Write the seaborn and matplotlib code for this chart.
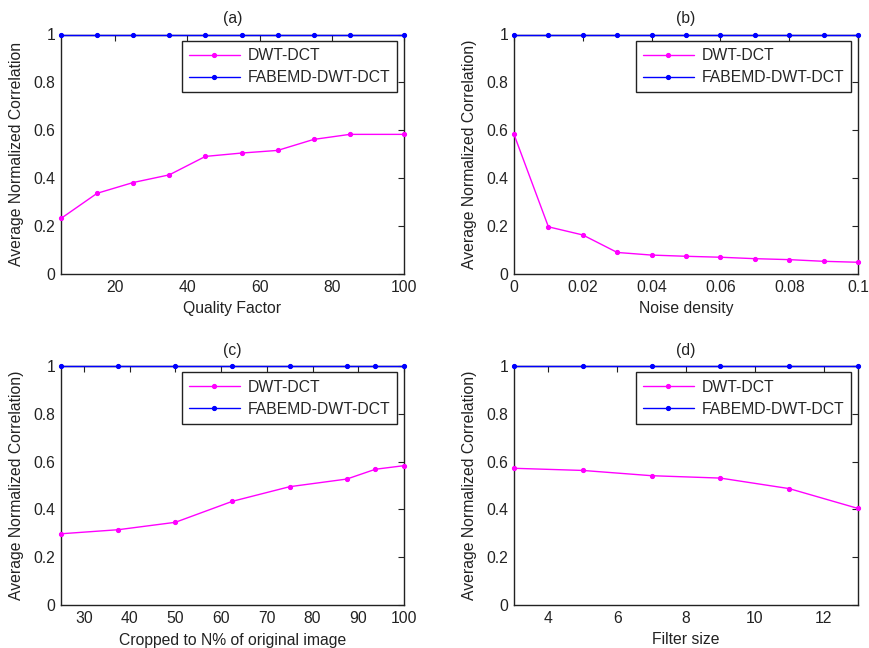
import matplotlib
matplotlib.use("Agg")
import matplotlib.pyplot as plt
import seaborn as sns
import pandas as pd
from matplotlib.ticker import FuncFormatter

sns.set_style("white")
plt.rcParams['font.family'] = ['Liberation Sans', 'DejaVu Sans']

# (a) JPEG compression
qf_x = [5, 15, 25, 35, 45, 55, 65, 75, 85, 100]
qf_dwt = [0.232, 0.337, 0.382, 0.414, 0.491, 0.505, 0.516, 0.562, 0.583, 0.583]
qf_fab = [1, 1, 1, 1, 1, 1, 1, 1, 1, 1]

# (b) Noise
nd_x = [0, 0.01, 0.02, 0.03, 0.04, 0.05, 0.06, 0.07, 0.08, 0.09, 0.1]
nd_dwt = [0.583, 0.197, 0.163, 0.090, 0.079, 0.074, 0.070, 0.064, 0.060, 0.053, 0.049]
nd_fab = [1, 1, 1, 1, 1, 1, 1, 1, 1, 1, 1]

# (c) Cropping
cr_x = [25, 37.5, 50, 62.5, 75, 87.5, 93.75, 100]
cr_dwt = [0.298, 0.315, 0.346, 0.434, 0.495, 0.527, 0.568, 0.583]
cr_fab = [1, 1, 1, 1, 1, 1, 1, 1]

# (d) Filter
fs_x = [3, 5, 7, 9, 11, 13]
fs_dwt = [0.572, 0.563, 0.541, 0.531, 0.487, 0.404]
fs_fab = [1, 1, 1, 1, 1, 1]

yticks = [0, 0.2, 0.4, 0.6, 0.8, 1]

fig = plt.figure(figsize=(8.69, 6.48), dpi=100)
W, H = 869, 648

def box(l, r, t, b):
    return [l / W, (H - b) / H, (r - l) / W, (b - t) / H]

panels = [
    dict(pos=box(61, 404, 34.5, 274), x=qf_x, d=qf_dwt, f=qf_fab, title="(a)",
         xlabel="Quality Factor", ylabel="Average Normalized Correlation",
         xlim=(5, 100), xticks=[20, 40, 60, 80, 100]),
    dict(pos=box(514, 858, 34.5, 274), x=nd_x, d=nd_dwt, f=nd_fab, title="(b)",
         xlabel="Noise density", ylabel="Average Normalized Correlation)",
         xlim=(0, 0.1), xticks=[0, 0.02, 0.04, 0.06, 0.08, 0.1]),
    dict(pos=box(61, 404, 366, 605), x=cr_x, d=cr_dwt, f=cr_fab, title="(c)",
         xlabel="Cropped to N% of original image", ylabel="Average Normalized Correlation)",
         xlim=(25, 100), xticks=[30, 40, 50, 60, 70, 80, 90, 100]),
    dict(pos=box(514, 858, 366, 605), x=fs_x, d=fs_dwt, f=fs_fab, title="(d)",
         xlabel="Filter size", ylabel="Average Normalized Correlation)",
         xlim=(3, 13), xticks=[4, 6, 8, 10, 12]),
]

fmt = FuncFormatter(lambda v, p: "%g" % round(v, 6))
FS = 11.3
TXT = "#222222"

for p in panels:
    ax = fig.add_axes(p["pos"])
    sns.lineplot(x=p["x"], y=p["d"], ax=ax, color="#ff00ff", marker=".",
                 markersize=6, markeredgecolor="#ff00ff", linewidth=1, label="DWT-DCT",
                 clip_on=False, zorder=5)
    sns.lineplot(x=p["x"], y=p["f"], ax=ax, color="#0000ff", marker=".",
                 markersize=6, markeredgecolor="#0000ff", linewidth=1, label="FABEMD-DWT-DCT",
                 clip_on=False, zorder=5)
    ax.set_xlim(*p["xlim"])
    ax.set_ylim(0, 1)
    ax.set_xticks(p["xticks"])
    ax.set_yticks(yticks)
    ax.xaxis.set_major_formatter(fmt)
    ax.yaxis.set_major_formatter(fmt)
    ax.tick_params(direction="in", top=True, right=True, length=4, width=0.8,
                   labelsize=FS, colors=TXT, labelcolor=TXT, pad=4)
    for s in ax.spines.values():
        s.set_color(TXT)
        s.set_linewidth(1)
        s.set_visible(True)
    ax.set_title(p["title"], fontsize=FS, pad=8, color=TXT)
    ax.set_xlabel(p["xlabel"], fontsize=FS, labelpad=5, color=TXT)
    ax.set_ylabel(p["ylabel"], fontsize=FS, labelpad=7, color=TXT)
    leg = ax.legend(loc="upper right", bbox_to_anchor=(0.98, 0.973), fontsize=FS,
                    fancybox=False, framealpha=1, edgecolor=TXT,
                    handlelength=3.2, borderpad=0.45, labelspacing=0.45,
                    handletextpad=0.5, borderaxespad=0)
    leg.get_frame().set_linewidth(1)
    leg.set_zorder(10)

fig.savefig("out.png", dpi=100, facecolor="white")
